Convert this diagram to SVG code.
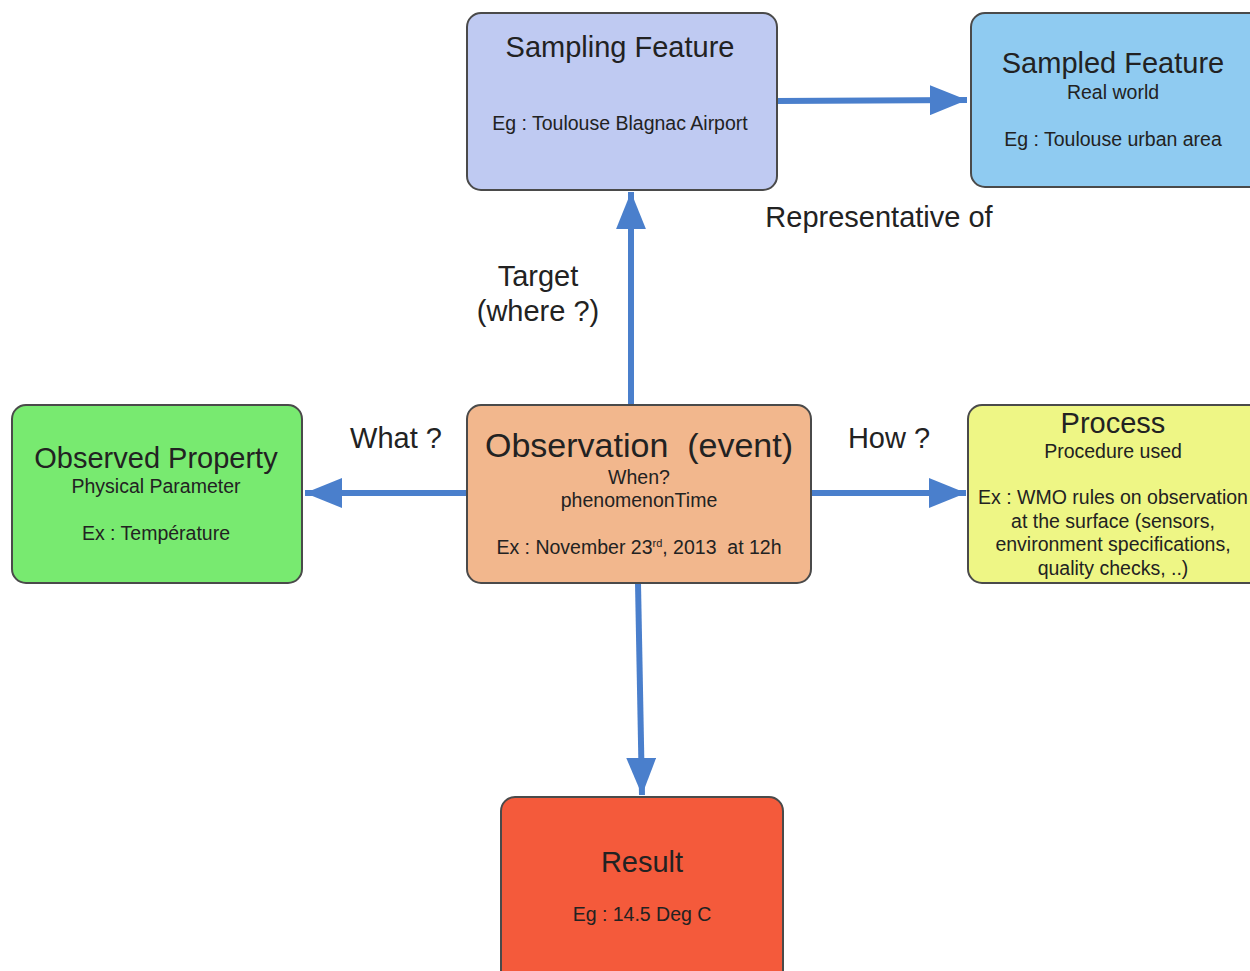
<svg xmlns="http://www.w3.org/2000/svg" width="1250" height="971" viewBox="0 0 1250 971">
<style>
.box{stroke:#4a4a4a;stroke-width:2}
text{font-family:"Liberation Sans",Arial,sans-serif;fill:#222;text-anchor:middle;white-space:pre}
.t{font-size:29px}
.s{font-size:19.5px}
.l{font-size:29px}
.c{stroke:#4a7fcc;stroke-width:6;fill:none}
</style>
<defs>
<marker id="ah" viewBox="0 0 10 10" refX="10" refY="5" markerWidth="6.2" markerHeight="5" markerUnits="strokeWidth" orient="auto" preserveAspectRatio="none">
<path d="M0,0 L10,5 L0,10 Z" fill="#4a7fcc"/>
</marker>
</defs>
<rect width="1250" height="971" fill="#fff"/>
<g id="connectors">
<path class="c" d="M631,405 L631,192" marker-end="url(#ah)"/>
<path class="c" d="M777,101 L967,100" marker-end="url(#ah)"/>
<path class="c" d="M467,493 L305,493" marker-end="url(#ah)"/>
<path class="c" d="M811,493 L966,493" marker-end="url(#ah)"/>
<path class="c" d="M638,583 L642,795" marker-end="url(#ah)"/>
</g>
<g id="labels">
<text class="l" x="879" y="227">Representative of</text>
<text class="l" x="538" y="286">Target</text>
<text class="l" x="538" y="321">(where ?)</text>
<text class="l" x="396" y="448">What ?</text>
<text class="l" x="889" y="448">How ?</text>
</g>
<g id="sampling-feature">
<rect class="box" x="467" y="13" width="310" height="177" rx="14" fill="#bfcaf2"/>
<text class="t" x="620" y="57">Sampling Feature</text>
<text class="s" x="620" y="130">Eg : Toulouse Blagnac Airport</text>
</g>
<g id="sampled-feature">
<rect class="box" x="971" y="13" width="300" height="174" rx="14" fill="#8fcbf1"/>
<text class="t" x="1113" y="73">Sampled Feature</text>
<text class="s" x="1113" y="99">Real world</text>
<text class="s" x="1113" y="146">Eg : Toulouse urban area</text>
</g>
<g id="observed-property">
<rect class="box" x="12" y="405" width="290" height="178" rx="14" fill="#78ea70"/>
<text class="t" x="156" y="468">Observed Property</text>
<text class="s" x="156" y="493">Physical Parameter</text>
<text class="s" x="156" y="540">Ex : Température</text>
</g>
<g id="observation">
<rect class="box" x="467" y="405" width="344" height="178" rx="14" fill="#f2b78d"/>
<text x="639" y="457" font-size="34">Observation  (event)</text>
<text class="s" x="639" y="484">When?</text>
<text class="s" x="639" y="507">phenomenonTime</text>
<text class="s" x="639" y="554">Ex : November 23<tspan font-size="11" dy="-7">rd</tspan><tspan dy="7">, 2013  at 12h</tspan></text>
</g>
<g id="process">
<rect class="box" x="968" y="405" width="300" height="178" rx="14" fill="#eef685"/>
<text class="t" x="1113" y="433">Process</text>
<text class="s" x="1113" y="458">Procedure used</text>
<text class="s" x="1113" y="504">Ex : WMO rules on observation</text>
<text class="s" x="1113" y="528">at the surface (sensors,</text>
<text class="s" x="1113" y="551">environment specifications,</text>
<text class="s" x="1113" y="575">quality checks, ..)</text>
</g>
<g id="result">
<rect class="box" x="501" y="797" width="282" height="190" rx="14" fill="#f45a3b"/>
<text class="t" x="642" y="872">Result</text>
<text class="s" x="642" y="921">Eg : 14.5 Deg C</text>
</g>
</svg>
